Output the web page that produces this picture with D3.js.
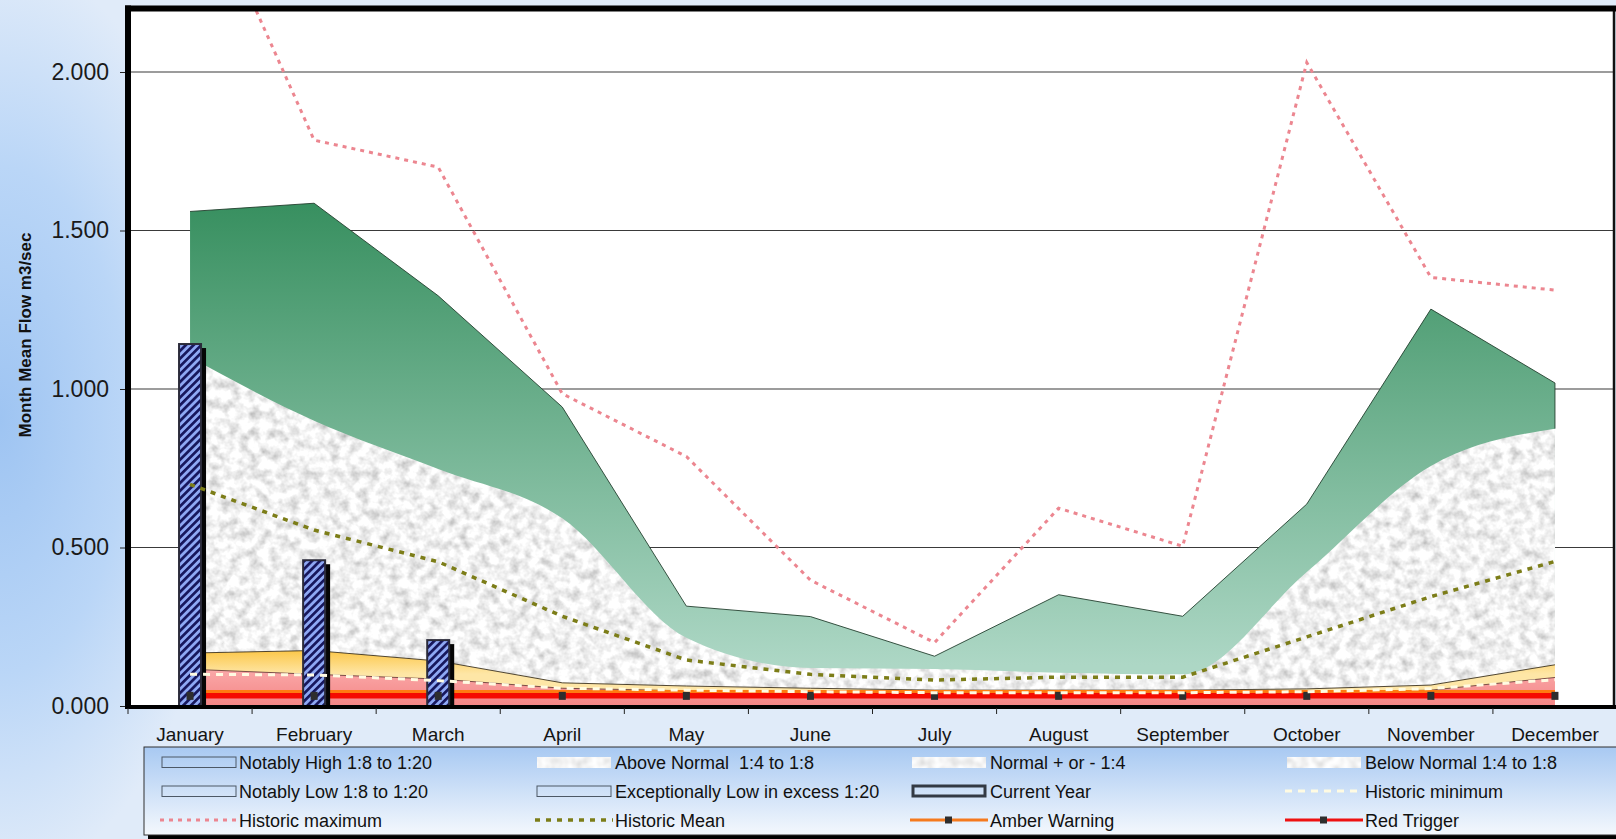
<!DOCTYPE html>
<html>
<head>
<meta charset="utf-8">
<script src="https://cdn.jsdelivr.net/npm/d3@7"></script>
<style>
  html, body { margin: 0; padding: 0; overflow: hidden; background: #e0ebf9; }
  svg { display: block; font-family: "Liberation Sans", Arial, Helvetica, sans-serif; }
</style>
</head>
<body>
<svg id="chart" width="1616" height="839"></svg>
<script>
// ---- data -------------------------------------------------------------
const months = ["January", "February", "March", "April", "May", "June",
                "July", "August", "September", "October", "November", "December"];

// upper edges of the flow bands (m3/sec)
const notablyHigh      = [1.560, 1.586, 1.294, 0.943, 0.315, 0.282, 0.157, 0.351, 0.283, 0.637, 1.252, 1.019];
const aboveNormal      = [1.100, 0.900, 0.748, 0.592, 0.215, 0.120, 0.117, 0.105, 0.100, 0.423, 0.757, 0.875];
const notablyLow       = [0.167, 0.175, 0.142, 0.073, 0.063, 0.056, 0.050, 0.050, 0.050, 0.054, 0.066, 0.130];
const exceptionallyLow = [0.116, 0.100, 0.085, 0.056, 0.048, 0.043, 0.040, 0.040, 0.040, 0.043, 0.050, 0.090];

// historic statistics
const historicMax  = [2.660, 1.785, 1.700, 0.985, 0.787, 0.397, 0.200, 0.624, 0.504, 2.030, 1.352, 1.312];
const historicMean = [0.699, 0.555, 0.455, 0.283, 0.145, 0.100, 0.082, 0.091, 0.091, 0.218, 0.345, 0.456];
const historicMin  = [0.100, 0.098, 0.080, 0.056, 0.050, 0.045, 0.042, 0.042, 0.042, 0.045, 0.055, 0.083];

// current year monthly means so far
const currentYear = [1.145, 0.463, 0.211];

// trigger levels
const amberWarning = [0.041, 0.041, 0.041, 0.041, 0.041, 0.041, 0.041, 0.041, 0.041, 0.041, 0.041, 0.041];
const redTrigger   = [0.032, 0.032, 0.032, 0.032, 0.032, 0.032, 0.032, 0.032, 0.032, 0.032, 0.032, 0.032];

const yTicks = [0, 0.5, 1.0, 1.5, 2.0];
const yTitle = "Month Mean Flow m3/sec";

const legendItems = [
  { col: 0, row: 0, kind: "outline", label: "Notably High 1:8 to 1:20" },
  { col: 0, row: 1, kind: "outline", label: "Notably Low 1:8 to 1:20" },
  { col: 0, row: 2, kind: "max",     label: "Historic maximum" },
  { col: 1, row: 0, kind: "texture", label: "Above Normal  1:4 to 1:8" },
  { col: 1, row: 1, kind: "outline", label: "Exceptionally Low in excess 1:20" },
  { col: 1, row: 2, kind: "mean",    label: "Historic Mean" },
  { col: 2, row: 0, kind: "texture", label: "Normal + or - 1:4" },
  { col: 2, row: 1, kind: "current", label: "Current Year" },
  { col: 2, row: 2, kind: "amber",   label: "Amber Warning" },
  { col: 3, row: 0, kind: "texture", label: "Below Normal 1:4 to 1:8" },
  { col: 3, row: 1, kind: "min",     label: "Historic minimum" },
  { col: 3, row: 2, kind: "red",     label: "Red Trigger" }
];

// ---- layout -----------------------------------------------------------
const W = 1616, H = 839;
const svg = d3.select("#chart");
const defs = svg.append("defs");

const x = d3.scaleBand().domain(months).range([128, 1617]).paddingInner(0).paddingOuter(0);
const cx = m => x(m) + x.bandwidth() / 2;
const y = d3.scaleLinear().domain([0, 2.2]).range([706, 8.6]);
const plotL = 128, plotR = 1614, plotT = y(2.2), plotB = y(0);

// ---- paint servers ------------------------------------------------------
const pageBg = defs.append("radialGradient").attr("id", "pageBg")
  .attr("gradientUnits", "userSpaceOnUse").attr("cx", 0).attr("cy", 420).attr("r", 460)
  .attr("gradientTransform", "translate(0,420) scale(0.5,1) translate(0,-420)");
pageBg.append("stop").attr("offset", 0).attr("stop-color", "#9ec4f2");
pageBg.append("stop").attr("offset", 0.55).attr("stop-color", "#bad6f7");
pageBg.append("stop").attr("offset", 1).attr("stop-color", "#e0ebf9");

const greenGrad = defs.append("linearGradient").attr("id", "greenGrad")
  .attr("gradientUnits", "userSpaceOnUse").attr("x1", 0).attr("y1", 200).attr("x2", 0).attr("y2", 665);
greenGrad.append("stop").attr("offset", 0).attr("stop-color", "#378f5f");
greenGrad.append("stop").attr("offset", 1).attr("stop-color", "#add7c5");

const yellowGrad = defs.append("linearGradient").attr("id", "yellowGrad")
  .attr("gradientUnits", "userSpaceOnUse").attr("x1", 0).attr("y1", 648).attr("x2", 0).attr("y2", 674);
yellowGrad.append("stop").attr("offset", 0).attr("stop-color", "#fcc43f");
yellowGrad.append("stop").attr("offset", 1).attr("stop-color", "#fee6a6");

const pinkGrad = defs.append("linearGradient").attr("id", "pinkGrad")
  .attr("gradientUnits", "userSpaceOnUse").attr("x1", 0).attr("y1", 668).attr("x2", 0).attr("y2", 706);
pinkGrad.append("stop").attr("offset", 0).attr("stop-color", "#faaaaa");
pinkGrad.append("stop").attr("offset", 1).attr("stop-color", "#f48585");

const legendGrad = defs.append("linearGradient").attr("id", "legendGrad")
  .attr("gradientUnits", "userSpaceOnUse").attr("x1", 0).attr("y1", 747).attr("x2", 0).attr("y2", 835);
legendGrad.append("stop").attr("offset", 0).attr("stop-color", "#a8c9f2");
legendGrad.append("stop").attr("offset", 1).attr("stop-color", "#f4f8fd");

// granite texture for the normal-range bands
const granite = defs.append("filter").attr("id", "granite")
  .attr("filterUnits", "userSpaceOnUse").attr("x", 0).attr("y", 0).attr("width", W).attr("height", H);
granite.append("feTurbulence").attr("type", "fractalNoise").attr("baseFrequency", 0.1)
  .attr("numOctaves", 3).attr("seed", 7).attr("result", "noise");
granite.append("feColorMatrix").attr("in", "noise").attr("type", "matrix")
  .attr("values", "0.9 0 0 0 0.43  0.9 0 0 0 0.43  0.9 0 0 0 0.43  0 0 0 0 1").attr("result", "grey");
granite.append("feComposite").attr("in", "grey").attr("in2", "SourceGraphic").attr("operator", "in");

const graniteSoft = defs.append("filter").attr("id", "graniteSoft")
  .attr("filterUnits", "userSpaceOnUse").attr("x", 0).attr("y", 0).attr("width", W).attr("height", H);
graniteSoft.append("feTurbulence").attr("type", "fractalNoise").attr("baseFrequency", 0.12)
  .attr("numOctaves", 2).attr("seed", 3).attr("result", "noise");
graniteSoft.append("feColorMatrix").attr("in", "noise").attr("type", "matrix")
  .attr("values", "0.6 0 0 0 0.62  0.6 0 0 0 0.62  0.6 0 0 0 0.62  0 0 0 0 1").attr("result", "grey");
graniteSoft.append("feGaussianBlur").attr("in", "grey").attr("stdDeviation", 1.2).attr("result", "blur");
graniteSoft.append("feComposite").attr("in", "blur").attr("in2", "SourceGraphic").attr("operator", "in");

// diagonal hatch for the current-year bars
const hatch = defs.append("pattern").attr("id", "hatch").attr("patternUnits", "userSpaceOnUse")
  .attr("width", 5.5).attr("height", 5.5).attr("patternTransform", "rotate(45)");
hatch.append("rect").attr("width", 5.5).attr("height", 5.5).attr("fill", "#8ea8f4");
hatch.append("rect").attr("width", 2.7).attr("height", 5.5).attr("fill", "#16165c");

defs.append("clipPath").attr("id", "plotClip").append("rect")
  .attr("x", 131).attr("y", 11).attr("width", 1482).attr("height", plotB - 11);

// ---- background -----------------------------------------------------------
svg.append("rect").attr("width", W).attr("height", H).attr("fill", "#e0ebf9");
svg.append("rect").attr("width", W).attr("height", H).attr("fill", "url(#pageBg)");
svg.append("rect").attr("x", plotL).attr("y", plotT).attr("width", plotR - plotL).attr("height", plotB - plotT)
  .attr("fill", "#ffffff");

// gridlines
svg.append("g").selectAll("line").data(yTicks.filter(v => v > 0)).join("line")
  .attr("x1", 131).attr("x2", 1613).attr("y1", d => y(d)).attr("y2", d => y(d))
  .attr("stroke", "#3a3a3a").attr("stroke-width", 1.1);

const plot = svg.append("g").attr("clip-path", "url(#plotClip)");

const px = (d, i) => cx(months[i]);
const areaFrom0 = d3.area().x(px).y0(y(0)).y1(d => y(d));
const lineGen = d3.line().x(px).y(d => y(d));

// bands, painted from the top band down
plot.append("path").attr("d", areaFrom0(notablyHigh)).attr("fill", "url(#greenGrad)");
plot.append("path").attr("d", areaFrom0.curve(d3.curveMonotoneX)(aboveNormal))
  .attr("fill", "#e4e4e4").attr("filter", "url(#granite)");
areaFrom0.curve(d3.curveLinear);
plot.append("path").attr("d", areaFrom0(notablyLow)).attr("fill", "url(#yellowGrad)");
plot.append("path").attr("d", areaFrom0(exceptionallyLow)).attr("fill", "url(#pinkGrad)");

// band outlines
const greenEdge = notablyHigh.map((v, i) => [cx(months[i]), y(v)]);
greenEdge.push([cx(months[11]), y(aboveNormal[11])]);
plot.append("path").attr("d", d3.line()(greenEdge)).attr("fill", "none")
  .attr("stroke", "#24402f").attr("stroke-width", 0.9);
plot.append("path").attr("d", lineGen(notablyLow)).attr("fill", "none")
  .attr("stroke", "#3d3320").attr("stroke-width", 0.9);
plot.append("path").attr("d", lineGen(exceptionallyLow)).attr("fill", "none")
  .attr("stroke", "#5a3030").attr("stroke-width", 0.8);

// trigger lines
plot.append("path").attr("d", lineGen(amberWarning)).attr("fill", "none")
  .attr("stroke", "#ff7a10").attr("stroke-width", 6);
plot.append("path").attr("d", lineGen(redTrigger)).attr("fill", "none")
  .attr("stroke", "#f50a00").attr("stroke-width", 5.5);

// current-year bars with drop shadow
const barW = 24;
const bars = plot.append("g");
bars.selectAll("rect.shadow").data(currentYear).join("rect").attr("class", "shadow")
  .attr("x", (d, i) => cx(months[i]) - barW / 2 + 4).attr("y", d => y(d) + 5)
  .attr("width", barW).attr("height", d => y(0) - y(d)).attr("fill", "#050505");
bars.selectAll("rect.bar").data(currentYear).join("rect").attr("class", "bar")
  .attr("x", (d, i) => cx(months[i]) - barW / 2 + 1).attr("y", d => y(d) + 1)
  .attr("width", barW - 2).attr("height", d => y(0) - y(d) - 1)
  .attr("fill", "url(#hatch)").attr("stroke", "#2b2b3a").attr("stroke-width", 2);

// trigger markers
plot.append("g").selectAll("rect").data(redTrigger).join("rect")
  .attr("x", (d, i) => cx(months[i]) - 3.5).attr("y", d => y(d) - 4)
  .attr("width", 7).attr("height", 8).attr("fill", "#2e2e2e");

// historic lines
plot.append("path").attr("d", lineGen(historicMin)).attr("fill", "none")
  .attr("stroke", "#fffbe2").attr("stroke-width", 3).attr("stroke-dasharray", "7,6");
plot.append("path").attr("d", lineGen(historicMean)).attr("fill", "none")
  .attr("stroke", "#7c7d18").attr("stroke-width", 3.5).attr("stroke-dasharray", "5,6");
plot.append("path").attr("d", lineGen(historicMax)).attr("fill", "none")
  .attr("stroke", "#ec8690").attr("stroke-width", 3).attr("stroke-dasharray", "4,5");

// ---- frame and axes ---------------------------------------------------------
svg.append("line").attr("x1", 1614).attr("x2", 1614).attr("y1", plotT).attr("y2", plotB)
  .attr("stroke", "#111").attr("stroke-width", 2.5);
svg.append("line").attr("x1", 125).attr("x2", W).attr("y1", plotT).attr("y2", plotT)
  .attr("stroke", "#000").attr("stroke-width", 6);
svg.append("line").attr("x1", 125).attr("x2", W).attr("y1", 707).attr("y2", 707)
  .attr("stroke", "#000").attr("stroke-width", 4);
svg.append("line").attr("x1", 128).attr("x2", 128).attr("y1", plotT - 3).attr("y2", 709)
  .attr("stroke", "#000").attr("stroke-width", 6);

// x tick marks at category boundaries
const bounds = months.map(m => x(m)).concat([x.range()[1]]);
svg.append("g").selectAll("line").data(bounds).join("line")
  .attr("x1", d => d).attr("x2", d => d).attr("y1", 708).attr("y2", 714)
  .attr("stroke", "#222").attr("stroke-width", 1);

const xAxis = svg.append("g").attr("transform", "translate(0,707)")
  .call(d3.axisBottom(x).tickSize(0).tickPadding(0));
xAxis.select(".domain").remove();
xAxis.selectAll("text").attr("dy", null).attr("y", 34)
  .attr("font-size", 19).attr("fill", "#141414")
  .attr("font-family", "'Liberation Sans', Arial, sans-serif");

const yAxis = svg.append("g").attr("transform", "translate(125,0)")
  .call(d3.axisLeft(y).tickValues(yTicks).tickFormat(d3.format(".3f")).tickSize(5).tickPadding(11));
yAxis.select(".domain").remove();
yAxis.selectAll("line").attr("stroke", "#222");
yAxis.selectAll("text").attr("font-size", 23).attr("fill", "#1a1a1a")
  .attr("font-family", "'Liberation Sans', Arial, sans-serif");

svg.append("text").attr("transform", "translate(31,335) rotate(-90)")
  .attr("text-anchor", "middle").attr("font-size", 17).attr("font-weight", "bold")
  .attr("fill", "#111").text(yTitle);

// ---- legend -------------------------------------------------------------
const lg = svg.append("g");
lg.append("rect").attr("x", 148).attr("y", 751).attr("width", 1480).attr("height", 90).attr("fill", "#000");
lg.append("rect").attr("x", 144).attr("y", 747).attr("width", 1480).attr("height", 88)
  .attr("fill", "url(#legendGrad)").attr("stroke", "#303030").attr("stroke-width", 1);

const swX = [162, 537, 912, 1287];
const txX = [239, 615, 990, 1365];
const rowY = [762, 791, 820];

legendItems.forEach(it => {
  const sx = swX[it.col], cy = rowY[it.row];
  const g = lg.append("g");
  if (it.kind === "outline") {
    g.append("rect").attr("x", sx).attr("y", cy - 5).attr("width", 74).attr("height", 10.5)
      .attr("fill", "none").attr("stroke", "#4c5866").attr("stroke-width", 1);
  } else if (it.kind === "current") {
    g.append("rect").attr("x", sx + 1).attr("y", cy - 5).attr("width", 72).attr("height", 10)
      .attr("fill", "none").attr("stroke", "#333a44").attr("stroke-width", 3);
  } else if (it.kind === "texture") {
    g.append("rect").attr("x", sx).attr("y", cy - 5).attr("width", 74).attr("height", 11)
      .attr("fill", "#eee").attr("filter", "url(#graniteSoft)");
  } else if (it.kind === "max") {
    g.append("line").attr("x1", sx - 2).attr("x2", sx + 76).attr("y1", cy).attr("y2", cy)
      .attr("stroke", "#ec8690").attr("stroke-width", 3).attr("stroke-dasharray", "4,5");
  } else if (it.kind === "mean") {
    g.append("line").attr("x1", sx - 2).attr("x2", sx + 76).attr("y1", cy).attr("y2", cy)
      .attr("stroke", "#7c7d18").attr("stroke-width", 3.5).attr("stroke-dasharray", "5,6");
  } else if (it.kind === "min") {
    g.append("line").attr("x1", sx - 2).attr("x2", sx + 76).attr("y1", cy).attr("y2", cy)
      .attr("stroke", "#fffbe2").attr("stroke-width", 3).attr("stroke-dasharray", "7,6");
  } else if (it.kind === "amber" || it.kind === "red") {
    g.append("line").attr("x1", sx - 2).attr("x2", sx + 76).attr("y1", cy).attr("y2", cy)
      .attr("stroke", it.kind === "amber" ? "#f57a1e" : "#ee1111").attr("stroke-width", 3);
    g.append("rect").attr("x", sx + 33).attr("y", cy - 3.5).attr("width", 7).attr("height", 7)
      .attr("fill", "#2e2e2e");
  }
  g.append("text").attr("x", txX[it.col]).attr("y", cy + 6.5)
    .attr("font-size", 18).attr("fill", "#111").style("white-space", "pre").text(it.label);
});
</script>
</body>
</html>
